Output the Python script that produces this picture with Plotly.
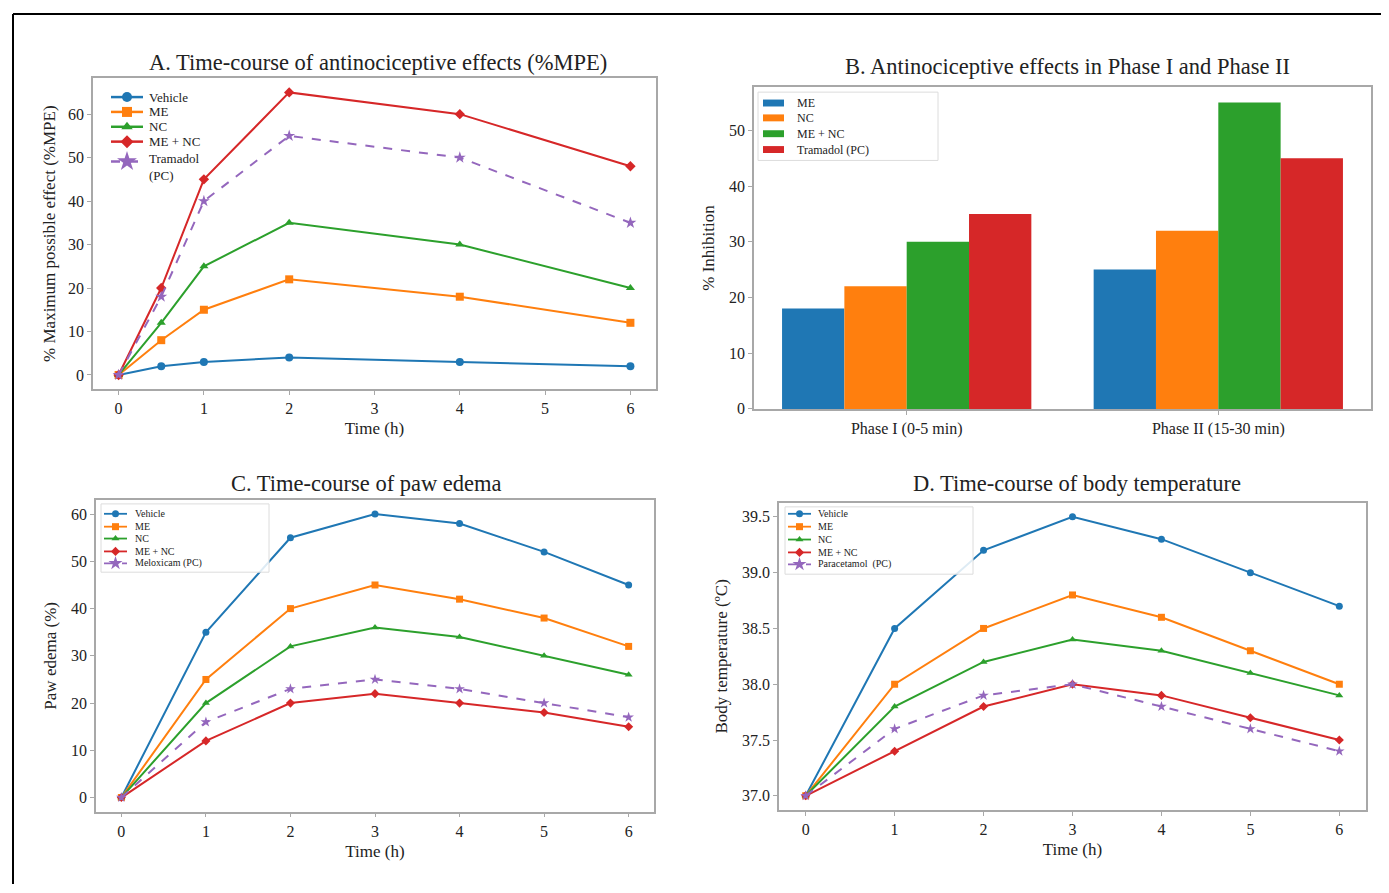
import plotly.graph_objects as go

# ---------------- Data ----------------
# Panel A
timeA = [0, 0.5, 1, 2, 4, 6]
A_vehicle = [0, 2, 3, 4, 3, 2]
A_me = [0, 8, 15, 22, 18, 12]
A_nc = [0, 12, 25, 35, 30, 20]
A_menc = [0, 20, 45, 65, 60, 48]
A_tramadol = [0, 18, 40, 55, 50, 35]

# Panel B
phases = ["Phase I (0-5 min)", "Phase II (15-30 min)"]
B_me = [18, 25]
B_nc = [22, 32]
B_menc = [30, 55]
B_tramadol = [35, 45]

# Panel C
timeC = [0, 1, 2, 3, 4, 5, 6]
C_vehicle = [0, 35, 55, 60, 58, 52, 45]
C_me = [0, 25, 40, 45, 42, 38, 32]
C_nc = [0, 20, 32, 36, 34, 30, 26]
C_menc = [0, 12, 20, 22, 20, 18, 15]
C_meloxicam = [0, 16, 23, 25, 23, 20, 17]

# Panel D
timeD = [0, 1, 2, 3, 4, 5, 6]
D_vehicle = [37.0, 38.5, 39.2, 39.5, 39.3, 39.0, 38.7]
D_me = [37.0, 38.0, 38.5, 38.8, 38.6, 38.3, 38.0]
D_nc = [37.0, 37.8, 38.2, 38.4, 38.3, 38.1, 37.9]
D_menc = [37.0, 37.4, 37.8, 38.0, 37.9, 37.7, 37.5]
D_paracetamol = [37.0, 37.6, 37.9, 38.0, 37.8, 37.6, 37.4]

# ---------------- Style ----------------
W, H = 1389, 893      # page size
OFF = 8               # default body margin of the html page
FW, FH = W - OFF, H - OFF
FONT = "Liberation Serif"
BLUE, ORANGE, GREEN, RED, PURPLE = "#1f77b4", "#ff7f0e", "#2ca02c", "#d62728", "#9467bd"
SPINE = "#a8a8a8"
TXT = "#222222"


def fx(px):
    return (px - OFF) / FW


def fy(py):
    return 1 - (py - OFF) / FH


def px_dom_x(x0, x1):
    return [fx(x0), fx(x1)]


def px_dom_y(top, bottom):
    return [fy(bottom), fy(top)]


fig = go.Figure()

styles = {
    "Vehicle": (BLUE, "circle", "solid"),
    "ME": (ORANGE, "square", "solid"),
    "NC": (GREEN, "triangle-up", "solid"),
    "ME + NC": (RED, "diamond", "solid"),
    "PC": (PURPLE, "star", "dash"),
}
order = ["Vehicle", "ME", "NC", "ME + NC", "PC"]


def add_lines(t, ys, pc_name, xa, ya, msize=7):
    for key, y in zip(order, ys):
        col, sym, dash = styles[key]
        fig.add_trace(go.Scatter(x=t, y=y, name=key if key != "PC" else pc_name,
                                 mode="lines+markers",
                                 line=dict(color=col, width=2, dash=dash),
                                 marker=dict(symbol=sym, size=msize + (1 if key == "PC" else 0), color=col),
                                 xaxis=xa, yaxis=ya, showlegend=False))


add_lines(timeA, [A_vehicle, A_me, A_nc, A_menc, A_tramadol], "Tramadol (PC)", "x", "y", msize=8)

bar_series = [("ME", BLUE, B_me), ("NC", ORANGE, B_nc),
              ("ME + NC", GREEN, B_menc), ("Tramadol (PC)", RED, B_tramadol)]
for name, col, vals in bar_series:
    fig.add_trace(go.Bar(x=phases, y=vals, name=name, marker=dict(color=col, line=dict(width=0)),
                         xaxis="x2", yaxis="y2", showlegend=False))

add_lines(timeC, [C_vehicle, C_me, C_nc, C_menc, C_meloxicam], "Meloxicam (PC)", "x3", "y3", msize=7)
add_lines(timeD, [D_vehicle, D_me, D_nc, D_menc, D_paracetamol], "Paracetamol (PC)", "x4", "y4", msize=7)

# ---------------- Hand-built legends (overlay axis in page pixels) ----------------
OV = dict(xaxis="x5", yaxis="y5", showlegend=False, hoverinfo="skip")


def ov(p):
    return p - OFF


def legend_box(x0, y0, x1, y1):
    fig.add_shape(type="rect", xref="x5", yref="y5", x0=ov(x0), x1=ov(x1), y0=ov(y0), y1=ov(y1),
                  line=dict(color="#dcdcdc", width=1), fillcolor="rgba(255,255,255,0.85)", layer="below")


def line_legend(entries, lx0, lx1, tx, fsize, msize, lw=2):
    for key, label, yrow, ytext in entries:
        col, sym, dash = styles[key]
        fig.add_trace(go.Scatter(x=[ov(lx0), ov(lx1)], y=[ov(yrow), ov(yrow)], mode="lines",
                                 line=dict(color=col, width=lw, dash=dash), **OV))
        ms = msize * (1.5 if key == "PC" else 1.0)
        fig.add_trace(go.Scatter(x=[ov((lx0 + lx1) / 2)], y=[ov(yrow)], mode="markers",
                                 marker=dict(symbol=sym, size=ms, color=col), **OV))
        fig.add_annotation(text=label, x=ov(tx), y=ov(ytext), xref="x5", yref="y5",
                           xanchor="left", yanchor="middle", showarrow=False,
                           font=dict(family=FONT, size=fsize, color=TXT), align="left")


# Legend A (no frame)
line_legend([("Vehicle", "Vehicle", 98, 98), ("ME", "ME", 113, 113), ("NC", "NC", 128, 128),
             ("ME + NC", "ME + NC", 143, 143), ("PC", "Tramadol<br>(PC)", 163, 169)],
            111, 143, 147, 13, 10, lw=2.5)

# Legend B
legend_box(758, 93, 938, 162)
for (name, col, _), yrow in zip(bar_series, [104, 119, 135, 151]):
    fig.add_shape(type="rect", xref="x5", yref="y5", x0=ov(763), x1=ov(784),
                  y0=ov(yrow - 3.5), y1=ov(yrow + 3.5), line=dict(width=0), fillcolor=col)
    fig.add_annotation(text=name, x=ov(795), y=ov(yrow), xref="x5", yref="y5",
                       xanchor="left", yanchor="middle", showarrow=False,
                       font=dict(family=FONT, size=12, color=TXT))

# Legend C
legend_box(101, 509, 269, 578)
line_legend([("Vehicle", "Vehicle", 519, 519), ("ME", "ME", 532, 532), ("NC", "NC", 544, 544),
             ("ME + NC", "ME + NC", 557, 557), ("PC", "Meloxicam (PC)", 569, 569)],
            104, 127, 133, 10, 7, lw=1.8)

# Legend D
legend_box(785, 512, 973, 580)
line_legend([("Vehicle", "Vehicle", 519, 519), ("ME", "ME", 532, 532), ("NC", "NC", 545, 545),
             ("ME + NC", "ME + NC", 558, 558), ("PC", "Paracetamol  (PC)", 570, 570)],
            788, 811, 816, 10, 7, lw=1.8)

axis_common = dict(showline=True, mirror=True, linecolor=SPINE, linewidth=1.5,
                   showgrid=False, zeroline=False, ticks="outside", ticklen=4,
                   tickcolor=SPINE, tickfont=dict(family=FONT, size=16, color=TXT),
                   title_font=dict(family=FONT, size=17, color=TXT))

# domains (page pixels)
A_dom = (93, 656, 79, 393)
B_dom = (754, 1371, 88, 413)
C_dom = (96, 654, 505, 820)
D_dom = (779, 1366, 508, 818)

fig.update_layout(
    width=FW, height=FH, margin=dict(l=0, r=0, t=0, b=0),
    paper_bgcolor="white", plot_bgcolor="rgba(0,0,0,0)",
    font=dict(family=FONT, color=TXT),
    barmode="group", bargap=0.2, bargroupgap=0,
    showlegend=False,
    xaxis=dict(domain=px_dom_x(A_dom[0], A_dom[1]), anchor="y", range=[-0.3, 6.3],
               tickvals=[0, 1, 2, 3, 4, 5, 6], title=dict(text="Time (h)", standoff=6), **axis_common),
    yaxis=dict(domain=px_dom_y(A_dom[2], A_dom[3]), anchor="x", range=[-3.25, 68.25],
               tickvals=[0, 10, 20, 30, 40, 50, 60],
               title=dict(text="% Maximum possible effect (%MPE)", standoff=8), **axis_common),
    xaxis2=dict(domain=px_dom_x(B_dom[0], B_dom[1]), anchor="y2", range=[-0.49, 1.49],
                title=dict(text=""), **axis_common),
    yaxis2=dict(domain=px_dom_y(B_dom[2], B_dom[3]), anchor="x2", range=[0, 57.75],
                tickvals=[0, 10, 20, 30, 40, 50],
                title=dict(text="% Inhibition", standoff=10), **axis_common),
    xaxis3=dict(domain=px_dom_x(C_dom[0], C_dom[1]), anchor="y3", range=[-0.3, 6.3],
                tickvals=[0, 1, 2, 3, 4, 5, 6], title=dict(text="Time (h)", standoff=6), **axis_common),
    yaxis3=dict(domain=px_dom_y(C_dom[2], C_dom[3]), anchor="x3", range=[-3, 63],
                tickvals=[0, 10, 20, 30, 40, 50, 60],
                title=dict(text="Paw edema (%)", standoff=10), **axis_common),
    xaxis4=dict(domain=px_dom_x(D_dom[0], D_dom[1]), anchor="y4", range=[-0.3, 6.3],
                tickvals=[0, 1, 2, 3, 4, 5, 6], title=dict(text="Time (h)", standoff=6), **axis_common),
    yaxis4=dict(domain=px_dom_y(D_dom[2], D_dom[3]), anchor="x4", range=[36.875, 39.625],
                tickvals=[37.0, 37.5, 38.0, 38.5, 39.0, 39.5], tickformat=".1f",
                title=dict(text="Body temperature (ºC)", standoff=10), **axis_common),
    xaxis5=dict(domain=[0, 1], anchor="y5", range=[0, FW], visible=False, fixedrange=True),
    yaxis5=dict(domain=[0, 1], anchor="x5", range=[FH, 0], visible=False, fixedrange=True),
)

titles = [
    ("A. Time-course of antinociceptive effects (%MPE)", 378, 63),
    ("B. Antinociceptive effects in Phase I and Phase II", 1067, 67),
    ("C. Time-course of paw edema", 367, 488),
    ("D. Time-course of body temperature", 1077, 488),
]
for text, cx, cy in titles:
    fig.add_annotation(text=text, x=fx(cx), y=fy(cy), xref="paper", yref="paper",
                       xanchor="center", yanchor="middle", showarrow=False,
                       font=dict(family=FONT, size=22.5, color=TXT))

# outer frame lines
fig.add_shape(type="line", xref="paper", yref="paper", x0=fx(13), x1=1, y0=fy(14), y1=fy(14),
              line=dict(color="black", width=2))
fig.add_shape(type="line", xref="paper", yref="paper", x0=fx(13), x1=fx(13), y0=0, y1=fy(14),
              line=dict(color="black", width=2))

fig.write_html("out.html")
